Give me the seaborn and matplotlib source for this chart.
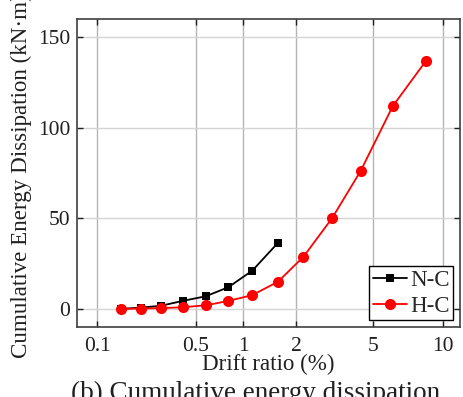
import numpy as np
import pandas as pd
import matplotlib
matplotlib.use("Agg")
import matplotlib.pyplot as plt
from matplotlib.ticker import FixedLocator, FixedFormatter, NullLocator
import seaborn as sns

# ---------------- data ----------------
nc_drift = [0.147, 0.204, 0.282, 0.403, 0.580, 0.807, 1.129, 1.581]
nc_energy = [0.0, 0.7, 1.7, 4.4, 7.0, 12.0, 21.1, 36.5]

hc_drift = [0.147, 0.204, 0.282, 0.403, 0.580, 0.807, 1.129, 1.581,
            2.187, 3.07, 4.32, 6.08, 8.45]
hc_energy = [0.0, 0.2, 0.4, 0.9, 2.0, 4.4, 7.6, 15.0,
             28.8, 50.0, 76.2, 111.9, 136.9]

x_ticks = [0.1, 0.5, 1, 2, 5, 10]
x_tick_labels = ["0.1", "0.5", "1", "2", "5", "10"]
y_ticks = [0, 50, 100, 150]

# ---------------- axis scale (non-uniform log axis of the original) ----------------
knot_log = np.log10(np.array(x_ticks, dtype=float))
knot_u = np.array([0.0, 0.2861, 0.4220, 0.5751, 0.7977, 1.0])

def fwd(x):
    x = np.asarray(x, dtype=float)
    with np.errstate(divide="ignore", invalid="ignore"):
        lx = np.log10(np.where(x > 0, x, 1e-12))
    u = np.interp(lx, knot_log, knot_u)
    s0 = (knot_u[1] - knot_u[0]) / (knot_log[1] - knot_log[0])
    s1 = (knot_u[-1] - knot_u[-2]) / (knot_log[-1] - knot_log[-2])
    u = np.where(lx < knot_log[0], knot_u[0] + (lx - knot_log[0]) * s0, u)
    u = np.where(lx > knot_log[-1], knot_u[-1] + (lx - knot_log[-1]) * s1, u)
    return u

def inv(u):
    u = np.asarray(u, dtype=float)
    lx = np.interp(u, knot_u, knot_log)
    s0 = (knot_log[1] - knot_log[0]) / (knot_u[1] - knot_u[0])
    s1 = (knot_log[-1] - knot_log[-2]) / (knot_u[-1] - knot_u[-2])
    lx = np.where(u < knot_u[0], knot_log[0] + (u - knot_u[0]) * s0, lx)
    lx = np.where(u > knot_u[-1], knot_log[-1] + (u - knot_u[-1]) * s1, lx)
    return 10 ** lx

# ---------------- figure ----------------
sns.set_theme(style="white")
plt.rcParams["font.family"] = ["Liberation Serif", "DejaVu Serif"]

fig = plt.figure(figsize=(4.63, 3.97), dpi=100)
ax = fig.add_axes([77 / 463, 1 - 327 / 397, (460 - 77) / 463, (327 - 19) / 397])
ax.set_xscale("function", functions=(fwd, inv))

df_nc = pd.DataFrame({"drift": nc_drift, "energy": nc_energy})
df_hc = pd.DataFrame({"drift": hc_drift, "energy": hc_energy})

sns.lineplot(data=df_nc, x="drift", y="energy", ax=ax, color="black",
             marker="s", markersize=6, markeredgewidth=0, linewidth=1.3,
             sort=False, label="N-C", zorder=3)
sns.lineplot(data=df_hc, x="drift", y="energy", ax=ax, color="#ff0000",
             marker="o", markersize=8, markeredgewidth=0, linewidth=1.3,
             sort=False, label="H-C", zorder=4)

ax.set_xlim(inv(-20 / 346), inv(1 + 17 / 346))
ax.set_ylim(-10, 160)
ax.xaxis.set_major_locator(FixedLocator(x_ticks))
ax.xaxis.set_major_formatter(FixedFormatter(x_tick_labels))
ax.xaxis.set_minor_locator(NullLocator())
ax.set_yticks(y_ticks)

ax.grid(True, axis="x", color="#b4b4b4", linewidth=1.0)
ax.grid(True, axis="y", color="#d4d4d4", linewidth=1.0)
ax.set_axisbelow(True)

for s in ax.spines.values():
    s.set_visible(True)
    s.set_color("#404040")
    s.set_linewidth(1.2)

ax.tick_params(axis="both", which="major", direction="in", length=4.5,
               width=1.0, color="#202020", labelsize=15.5, top=True, right=True,
               bottom=True, left=True, labelcolor="#202020")
ax.tick_params(axis="x", pad=7)
ax.tick_params(axis="y", pad=5)

ax.set_xlabel("Drift ratio (%)", fontsize=16.6, color="#202020")
ax.set_ylabel("Cumulative Energy Dissipation (kN·m)", fontsize=16.6, color="#202020")
ax.xaxis.set_label_coords(0.5, -0.088)
ax.xaxis.label.set_va("top")
ax.yaxis.set_label_coords(-0.118, 0.49)

leg = ax.legend(loc="lower right", bbox_to_anchor=(0.9817, 0.0227),
                borderaxespad=0, fontsize=16.5, frameon=True, fancybox=False,
                handlelength=1.5, handletextpad=0.13, borderpad=0.15,
                labelspacing=0.2)
leg.get_frame().set_edgecolor("black")
leg.get_frame().set_linewidth(1.0)
leg.get_frame().set_alpha(1)

fig.text(256 / 463, 1 - 381 / 397, "(b) Cumulative energy dissipation",
         ha="center", va="top", fontsize=19.5, color="#202020")

fig.savefig("out.png", dpi=100)
